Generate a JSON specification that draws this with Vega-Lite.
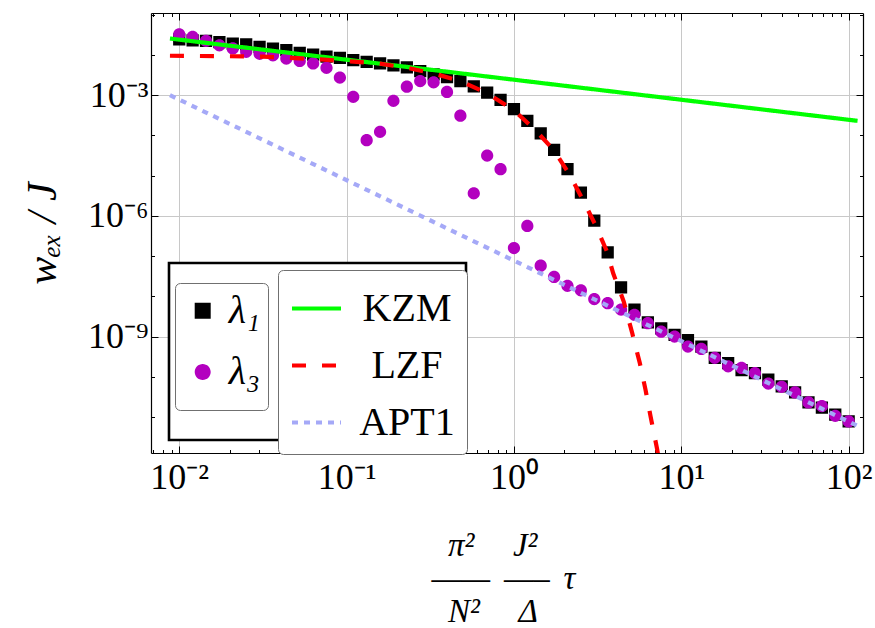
{
  "$schema": "https://vega.github.io/schema/vega-lite/v6.json",
  "width": 712,
  "height": 440,
  "autosize": {"type": "none"},
  "padding": {"left": 151, "top": 13, "right": 12, "bottom": 175},
  "config": {
    "view": {"stroke": null},
    "font": "Liberation Serif",
    "axis": {
      "tickColor": "black",
      "tickWidth": 1,
      "domainColor": "black",
      "domainWidth": 1.2,
      "gridColor": "#c8c8c8",
      "gridWidth": 1,
      "labelFont": "Liberation Serif",
      "labelFontSize": 36,
      "labelColor": "black",
      "titleColor": "black",
      "titleFont": "Liberation Serif",
      "titleFontWeight": "normal",
      "labelOverlap": false,
      "labelFlush": false
    }
  },
  "datasets": {
    "pts": [
      {"x": 0.01, "y": 2.455e-2, "series": "λ₁"},
      {"x": 0.01202, "y": 2.291e-2, "series": "λ₁"},
      {"x": 0.01445, "y": 2.239e-2, "series": "λ₁"},
      {"x": 0.01738, "y": 2.089e-2, "series": "λ₁"},
      {"x": 0.02089, "y": 1.905e-2, "series": "λ₁"},
      {"x": 0.02512, "y": 1.82e-2, "series": "λ₁"},
      {"x": 0.0302, "y": 1.585e-2, "series": "λ₁"},
      {"x": 0.03631, "y": 1.445e-2, "series": "λ₁"},
      {"x": 0.04365, "y": 1.318e-2, "series": "λ₁"},
      {"x": 0.05248, "y": 1.122e-2, "series": "λ₁"},
      {"x": 0.0631, "y": 1.023e-2, "series": "λ₁"},
      {"x": 0.07586, "y": 9.12e-3, "series": "λ₁"},
      {"x": 0.0912, "y": 8.51e-3, "series": "λ₁"},
      {"x": 0.1096, "y": 7.41e-3, "series": "λ₁"},
      {"x": 0.1318, "y": 6.76e-3, "series": "λ₁"},
      {"x": 0.1585, "y": 6.17e-3, "series": "λ₁"},
      {"x": 0.1905, "y": 5.5e-3, "series": "λ₁"},
      {"x": 0.2291, "y": 4.9e-3, "series": "λ₁"},
      {"x": 0.2754, "y": 3.98e-3, "series": "λ₁"},
      {"x": 0.3311, "y": 3.31e-3, "series": "λ₁"},
      {"x": 0.3981, "y": 2.82e-3, "series": "λ₁"},
      {"x": 0.4786, "y": 2.24e-3, "series": "λ₁"},
      {"x": 0.5754, "y": 1.66e-3, "series": "λ₁"},
      {"x": 0.6918, "y": 1.15e-3, "series": "λ₁"},
      {"x": 0.8318, "y": 7.59e-4, "series": "λ₁"},
      {"x": 1, "y": 4.47e-4, "series": "λ₁"},
      {"x": 1.202, "y": 2.29e-4, "series": "λ₁"},
      {"x": 1.445, "y": 1.12e-4, "series": "λ₁"},
      {"x": 1.738, "y": 4.37e-5, "series": "λ₁"},
      {"x": 2.089, "y": 1.45e-5, "series": "λ₁"},
      {"x": 2.512, "y": 3.8e-6, "series": "λ₁"},
      {"x": 3.02, "y": 7.59e-7, "series": "λ₁"},
      {"x": 3.631, "y": 1.23e-7, "series": "λ₁"},
      {"x": 4.365, "y": 1.66e-8, "series": "λ₁"},
      {"x": 5.248, "y": 4.68e-9, "series": "λ₁"},
      {"x": 6.31, "y": 2.24e-9, "series": "λ₁"},
      {"x": 7.586, "y": 1.585e-9, "series": "λ₁"},
      {"x": 9.12, "y": 1.1e-9, "series": "λ₁"},
      {"x": 10.96, "y": 8.13e-10, "series": "λ₁"},
      {"x": 13.18, "y": 5.62e-10, "series": "λ₁"},
      {"x": 15.85, "y": 2.95e-10, "series": "λ₁"},
      {"x": 19.05, "y": 2.19e-10, "series": "λ₁"},
      {"x": 22.91, "y": 1.45e-10, "series": "λ₁"},
      {"x": 27.54, "y": 1.23e-10, "series": "λ₁"},
      {"x": 33.11, "y": 8.51e-11, "series": "λ₁"},
      {"x": 39.81, "y": 5.75e-11, "series": "λ₁"},
      {"x": 47.86, "y": 4.07e-11, "series": "λ₁"},
      {"x": 57.54, "y": 2.29e-11, "series": "λ₁"},
      {"x": 69.18, "y": 1.7e-11, "series": "λ₁"},
      {"x": 83.18, "y": 1.15e-11, "series": "λ₁"},
      {"x": 100, "y": 7.76e-12, "series": "λ₁"},
      {"x": 0.01, "y": 3.24e-2, "series": "λ₃"},
      {"x": 0.01202, "y": 2.82e-2, "series": "λ₃"},
      {"x": 0.01445, "y": 2.24e-2, "series": "λ₃"},
      {"x": 0.01738, "y": 1.74e-2, "series": "λ₃"},
      {"x": 0.02089, "y": 1.45e-2, "series": "λ₃"},
      {"x": 0.02512, "y": 1.2e-2, "series": "λ₃"},
      {"x": 0.0302, "y": 1.07e-2, "series": "λ₃"},
      {"x": 0.03631, "y": 9.77e-3, "series": "λ₃"},
      {"x": 0.04365, "y": 8.13e-3, "series": "λ₃"},
      {"x": 0.05248, "y": 7.08e-3, "series": "λ₃"},
      {"x": 0.0631, "y": 6.17e-3, "series": "λ₃"},
      {"x": 0.07586, "y": 4.79e-3, "series": "λ₃"},
      {"x": 0.0912, "y": 2.75e-3, "series": "λ₃"},
      {"x": 0.1096, "y": 9.12e-4, "series": "λ₃"},
      {"x": 0.1318, "y": 7.59e-5, "series": "λ₃"},
      {"x": 0.1585, "y": 1.23e-4, "series": "λ₃"},
      {"x": 0.1905, "y": 7.24e-4, "series": "λ₃"},
      {"x": 0.2291, "y": 1.62e-3, "series": "λ₃"},
      {"x": 0.2754, "y": 2.24e-3, "series": "λ₃"},
      {"x": 0.3311, "y": 2.09e-3, "series": "λ₃"},
      {"x": 0.3981, "y": 1.2e-3, "series": "λ₃"},
      {"x": 0.4786, "y": 3.09e-4, "series": "λ₃"},
      {"x": 0.5754, "y": 3.63e-6, "series": "λ₃"},
      {"x": 0.6918, "y": 3.16e-5, "series": "λ₃"},
      {"x": 0.8318, "y": 1.45e-5, "series": "λ₃"},
      {"x": 1, "y": 1.585e-7, "series": "λ₃"},
      {"x": 1.202, "y": 5.62e-7, "series": "λ₃"},
      {"x": 1.445, "y": 5.75e-8, "series": "λ₃"},
      {"x": 1.738, "y": 3.02e-8, "series": "λ₃"},
      {"x": 2.089, "y": 1.82e-8, "series": "λ₃"},
      {"x": 2.512, "y": 1.41e-8, "series": "λ₃"},
      {"x": 3.02, "y": 8.51e-9, "series": "λ₃"},
      {"x": 3.631, "y": 6.76e-9, "series": "λ₃"},
      {"x": 4.365, "y": 4.68e-9, "series": "λ₃"},
      {"x": 5.248, "y": 3.47e-9, "series": "λ₃"},
      {"x": 6.31, "y": 2.14e-9, "series": "λ₃"},
      {"x": 7.586, "y": 1.32e-9, "series": "λ₃"},
      {"x": 9.12, "y": 1.0e-9, "series": "λ₃"},
      {"x": 10.96, "y": 5.62e-10, "series": "λ₃"},
      {"x": 13.18, "y": 4.9e-10, "series": "λ₃"},
      {"x": 15.85, "y": 2.95e-10, "series": "λ₃"},
      {"x": 19.05, "y": 1.82e-10, "series": "λ₃"},
      {"x": 22.91, "y": 1.66e-10, "series": "λ₃"},
      {"x": 27.54, "y": 1.23e-10, "series": "λ₃"},
      {"x": 33.11, "y": 6.76e-11, "series": "λ₃"},
      {"x": 39.81, "y": 5.62e-11, "series": "λ₃"},
      {"x": 47.86, "y": 4.07e-11, "series": "λ₃"},
      {"x": 57.54, "y": 2.29e-11, "series": "λ₃"},
      {"x": 69.18, "y": 1.86e-11, "series": "λ₃"},
      {"x": 83.18, "y": 1.07e-11, "series": "λ₃"},
      {"x": 100, "y": 7.76e-12, "series": "λ₃"}
    ],
    "lines": [
      {"x": 0.0088, "y": 2.56e-2, "model": "KZM"},
      {"x": 113, "y": 2.3e-4, "model": "KZM"},
      {"x": 0.0088, "y": 9.55e-3, "model": "LZF"},
      {"x": 0.0316, "y": 9.12e-3, "model": "LZF"},
      {"x": 0.0697, "y": 7.76e-3, "model": "LZF"},
      {"x": 0.105, "y": 6.92e-3, "model": "LZF"},
      {"x": 0.1545, "y": 6.17e-3, "model": "LZF"},
      {"x": 0.2296, "y": 4.79e-3, "model": "LZF"},
      {"x": 0.331, "y": 3.47e-3, "model": "LZF"},
      {"x": 0.4786, "y": 2.24e-3, "model": "LZF"},
      {"x": 0.69, "y": 1.12e-3, "model": "LZF"},
      {"x": 0.995, "y": 4.27e-4, "model": "LZF"},
      {"x": 1.343, "y": 1.35e-4, "model": "LZF"},
      {"x": 1.726, "y": 4.37e-5, "model": "LZF"},
      {"x": 2.123, "y": 1.15e-5, "model": "LZF"},
      {"x": 2.553, "y": 2.75e-6, "model": "LZF"},
      {"x": 3.069, "y": 5.89e-7, "model": "LZF"},
      {"x": 3.597, "y": 1.29e-7, "model": "LZF"},
      {"x": 3.917, "y": 3.72e-8, "model": "LZF"},
      {"x": 4.529, "y": 7.41e-9, "model": "LZF"},
      {"x": 5.093, "y": 1.2e-9, "model": "LZF"},
      {"x": 5.649, "y": 2.19e-10, "model": "LZF"},
      {"x": 6.109, "y": 4.79e-11, "model": "LZF"},
      {"x": 6.546, "y": 1.05e-11, "model": "LZF"},
      {"x": 7.178, "y": 1.55e-12, "model": "LZF"},
      {"x": 7.3, "y": 1.0e-12, "model": "LZF"},
      {"x": 0.0088, "y": 1.0e-3, "model": "APT1"},
      {"x": 113, "y": 6.0e-12, "model": "APT1"}
    ]
  },
  "layer": [
    {
      "data": {"name": "pts"},
      "mark": {"type": "point", "filled": true, "size": 150, "opacity": 1, "strokeWidth": 0},
      "encoding": {
        "x": {
          "field": "x",
          "type": "quantitative",
          "scale": {"type": "log", "domain": [0.00678, 121.8], "nice": false},
          "axis": {
            "orient": "bottom",
            "values": [0.007, 0.008, 0.009, 0.01, 0.02, 0.03, 0.04, 0.05, 0.06, 0.07, 0.08, 0.09, 0.1, 0.2, 0.3, 0.4, 0.5, 0.6, 0.7, 0.8, 0.9, 1, 2, 3, 4, 5, 6, 7, 8, 9, 10, 20, 30, 40, 50, 60, 70, 80, 90, 100],
            "labelExpr": "datum.value==0.01?'10⁻²':datum.value==0.1?'10⁻¹':datum.value==1?'10⁰':datum.value==10?'10¹':datum.value==100?'10²':''",
            "labelPadding": 14,
            "grid": true,
            "gridOpacity": {"condition": {"test": "datum.value==0.01||datum.value==0.1||datum.value==1||datum.value==10||datum.value==100", "value": 1}, "value": 0},
            "tickSize": {"condition": {"test": "datum.value==0.01||datum.value==0.1||datum.value==1||datum.value==10||datum.value==100", "value": -7}, "value": -3.5},
            "title": ["\u2060\u2002π²\u2003\u2006J²", "——\u2005\u200a\u200a—–\u2004\u200aτ", "\u2060\u2004\u200a\u200aN²\u2003\u2006Δ"],
            "titleFontSize": 33,
            "titleFontStyle": "italic",
            "titleAlign": "left",
            "titleBaseline": "alphabetic",
            "titleLineHeight": 33,
            "titleX": 280,
            "titleY": 102
          }
        },
        "y": {
          "field": "y",
          "type": "quantitative",
          "scale": {"type": "log", "domain": [1.27e-12, 0.1104], "nice": false},
          "axis": {
            "orient": "left",
            "values": [0.1, 0.01, 0.001, 1e-4, 1e-5, 1e-6, 1e-7, 1e-8, 1e-9, 1e-10, 1e-11],
            "labelExpr": "datum.value==0.001?'10⁻³':datum.value==1e-6?'10⁻⁶':datum.value==1e-9?'10⁻⁹':''",
            "labelPadding": 10,
            "grid": true,
            "gridOpacity": {"condition": {"test": "datum.value==0.001||datum.value==1e-6||datum.value==1e-9", "value": 1}, "value": 0},
            "tickSize": {"condition": {"test": "datum.value==0.001||datum.value==1e-6||datum.value==1e-9", "value": -7}, "value": -3.5},
            "title": "wₑₓ / J",
            "titleFontSize": 42,
            "titleFontStyle": "italic",
            "titleAngle": 270,
            "titleAlign": "center",
            "titleBaseline": "middle",
            "titleX": -109,
            "titleY": 220
          }
        },
        "color": {
          "field": "series",
          "type": "nominal",
          "scale": {"domain": ["λ₁", "λ₃"], "range": ["#000000", "#b300bf"]},
          "legend": {
            "orient": "none",
            "legendX": 24,
            "legendY": 270,
            "title": null,
            "padding": 7.7,
            "rowPadding": 1.4,
            "symbolSize": 256,
            "symbolOpacity": 1,
            "symbolStrokeWidth": 0,
            "labelOffset": 6,
            "labelFont": "Liberation Serif",
            "labelFontSize": 40,
            "labelFontStyle": "italic",
            "labelColor": "black",
            "strokeColor": "#707070",
            "fillColor": "white",
            "cornerRadius": 5,
            "zindex": 2,
            "encode": {"symbols": {"update": {"opacity": {"value": 1}}}}
          }
        },
        "shape": {
          "field": "series",
          "type": "nominal",
          "scale": {"domain": ["λ₁", "λ₃"], "range": ["M-1,-1H1V1H-1Z M0,-3.725V3.725", "M1,0A1,1,0,1,1,-1,0A1,1,0,1,1,1,0Z M0,-3.725V3.725"]},
          "legend": {}
        },
        "opacity": {
          "field": "series",
          "type": "ordinal",
          "scale": {"domain": ["λ₃", "λ₁"], "range": [1, 1]},
          "legend": {
            "orient": "none",
            "legendX": 18,
            "legendY": 250,
            "title": null,
            "padding": 13.5,
            "rowPadding": 10,
            "symbolSize": 4900,
            "symbolType": "square",
            "symbolFillColor": "transparent",
            "symbolStrokeColor": "transparent",
            "symbolStrokeWidth": 0,
            "labelOffset": 199,
            "labelFontSize": 1,
            "labelOpacity": 0,
            "labelColor": "transparent",
            "strokeColor": "black",
            "fillColor": "white",
            "cornerRadius": 0,
            "zindex": 1,
            "encode": {"legend": {"update": {"strokeWidth": {"value": 2.6}}}}
          }
        }
      }
    },
    {
      "data": {"name": "lines"},
      "mark": {"type": "line", "strokeWidth": 4.2, "clip": true, "strokeCap": "butt"},
      "encoding": {
        "x": {
          "field": "x",
          "type": "quantitative",
          "scale": {"type": "log", "domain": [0.00678, 121.8], "nice": false},
          "axis": {
            "orient": "top",
            "values": [0.007, 0.008, 0.009, 0.01, 0.02, 0.03, 0.04, 0.05, 0.06, 0.07, 0.08, 0.09, 0.1, 0.2, 0.3, 0.4, 0.5, 0.6, 0.7, 0.8, 0.9, 1, 2, 3, 4, 5, 6, 7, 8, 9, 10, 20, 30, 40, 50, 60, 70, 80, 90, 100],
            "labels": false,
            "grid": false,
            "tickSize": {"condition": {"test": "datum.value==0.01||datum.value==0.1||datum.value==1||datum.value==10||datum.value==100", "value": -7}, "value": -3.5},
            "title": null
          }
        },
        "y": {
          "field": "y",
          "type": "quantitative",
          "scale": {"type": "log", "domain": [1.27e-12, 0.1104], "nice": false},
          "axis": {
            "orient": "right",
            "values": [0.1, 0.01, 0.001, 1e-4, 1e-5, 1e-6, 1e-7, 1e-8, 1e-9, 1e-10, 1e-11],
            "labels": false,
            "grid": false,
            "tickSize": {"condition": {"test": "datum.value==0.001||datum.value==1e-6||datum.value==1e-9", "value": -7}, "value": -3.5},
            "title": null
          }
        },
        "color": {
          "field": "model",
          "type": "nominal",
          "scale": {"domain": ["KZM", "LZF", "APT1"], "range": ["#00ff00", "#ff0000", "#a5a9f7"]},
          "legend": {
            "orient": "none",
            "legendX": 127,
            "legendY": 257,
            "title": null,
            "padding": 11.5,
            "rowPadding": 10,
            "symbolSize": 2401,
            "symbolStrokeWidth": 4.2,
            "labelOffset": 63.5,
            "labelAlign": "center",
            "labelFont": "Liberation Serif",
            "labelFontSize": 40,
            "labelColor": "black",
            "strokeColor": "#707070",
            "fillColor": "white",
            "cornerRadius": 5,
            "zindex": 2
          }
        },
        "strokeDash": {
          "field": "model",
          "type": "nominal",
          "scale": {"domain": ["KZM", "LZF", "APT1"], "range": [[1, 0], [14, 16], [6, 6]]},
          "legend": {}
        }
      }
    }
  ],
  "resolve": {
    "scale": {"color": "independent", "shape": "independent", "opacity": "independent", "strokeDash": "independent"},
    "axis": {"x": "independent", "y": "independent"}
  }
}
